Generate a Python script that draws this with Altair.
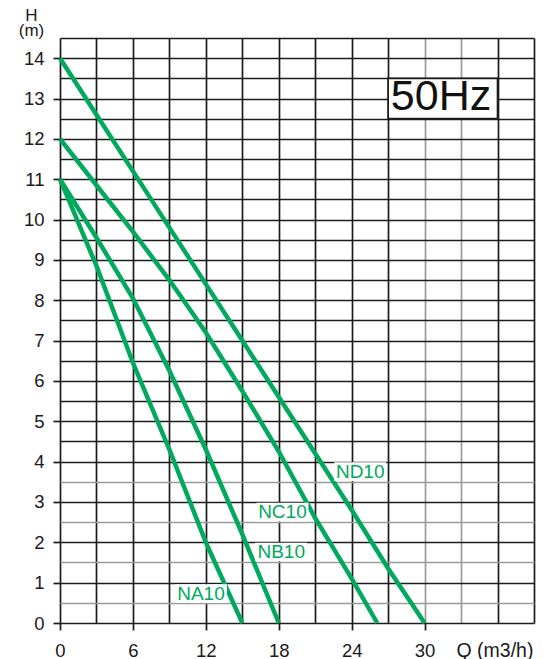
import altair as alt
import pandas as pd

# ---- data ----
series_names = ["NA10", "NB10", "NC10", "ND10"]
q_na = [0, 3, 6, 9, 12, 15]
h_na = [11.0, 8.85, 6.45, 4.3, 2.0, 0.0]
q_nb = [0, 3, 6, 9, 12, 15, 18]
h_nb = [11.0, 9.55, 8.05, 6.25, 4.3, 2.2, 0.0]
q_nc = [0, 3, 6, 9, 12, 15, 18, 21, 24, 26.1]
h_nc = [12.0, 10.85, 9.7, 8.5, 7.2, 5.75, 4.25, 2.6, 1.1, 0.0]
q_nd = [0, 3, 6, 9, 12, 15, 18, 21, 24, 27, 30]
h_nd = [14.0, 12.6, 11.2, 9.8, 8.4, 7.0, 5.6, 4.2, 2.8, 1.35, 0.0]

label_q = [11.6, 18.2, 18.3, 24.7]
label_h = [0.73, 1.76, 2.75, 3.75]

freq_text = ["50Hz"]
freq_q = [31.35]
freq_h = [13.05]
freq_box_q = [27.0, 36.0]
freq_box_h = [12.5, 13.5]

x_grid_values = list(range(0, 40, 3))
y_grid_values = [i * 0.5 for i in range(30)]

# ---- tables ----
rows = []
for name, qs, hs in zip(series_names, [q_na, q_nb, q_nc, q_nd], [h_na, h_nb, h_nc, h_nd]):
    for q, h in zip(qs, hs):
        rows.append({"series": name, "q": q, "h": h})
curves = pd.DataFrame(rows)
labels = pd.DataFrame({"series": series_names, "q": label_q, "h": label_h})
freq = pd.DataFrame({"text": freq_text, "q": freq_q, "h": freq_h,
                     "q0": [freq_box_q[0]], "q1": [freq_box_q[1]],
                     "h0": [freq_box_h[0]], "h1": [freq_box_h[1]]})

GREEN = "#00a95c"
INK = "#1c1c1c"
FONT = "Liberation Sans"

xscale = alt.Scale(domain=[0, 39], nice=False, zero=False)
yscale = alt.Scale(domain=[0, 14.5], nice=False, zero=False)

x_axis = alt.Axis(
    values=x_grid_values,
    grid=True,
    gridColor={"condition": {"test": "datum.value == 30 || datum.value == 33", "value": "#9a9a9a"}, "value": INK},
    gridWidth=1.7,
    domain=False,
    ticks=True,
    tickSize=7,
    tickWidth=1.7,
    tickColor=INK,
    tickOpacity={"condition": {"test": "datum.value % 6 == 0 && datum.value <= 30", "value": 1}, "value": 0},
    labelExpr="(datum.value % 6 == 0 && datum.value <= 30) ? format(datum.value, 'd') : ''",
    labelFlush=False,
    labelOverlap=False,
    labelPadding=11,
    labelFont=FONT,
    labelFontSize=18.5,
    labelColor="#1a1a1a",
    title="Q (m3/h)",
    titleX=434.5,
    titleY=33,
    titleAlign="center",
    titleBaseline="alphabetic",
    titleFont=FONT,
    titleFontSize=19.5,
    titleFontWeight="normal",
    titleColor="#1a1a1a",
)

y_axis = alt.Axis(
    values=y_grid_values,
    grid=True,
    gridColor={"condition": {"test": "datum.value % 1 != 0 && datum.value < 4", "value": "#9a9a9a"}, "value": INK},
    gridWidth=1.7,
    domain=False,
    ticks=True,
    tickSize=7,
    tickWidth=1.7,
    tickColor=INK,
    tickOpacity={"condition": {"test": "datum.value % 1 == 0 && datum.value <= 14", "value": 1}, "value": 0},
    labelExpr="(datum.value % 1 == 0 && datum.value <= 14) ? format(datum.value, 'd') : ''",
    labelOverlap=False,
    labelPadding=9,
    labelFont=FONT,
    labelFontSize=18.5,
    labelColor="#1a1a1a",
    title=["H", "(m)"],
    titleAngle=0,
    titleX=-29,
    titleY=-17.5,
    titleAlign="center",
    titleBaseline="alphabetic",
    titleLineHeight=14.5,
    titleFont=FONT,
    titleFontSize=17,
    titleFontWeight="normal",
    titleColor="#1a1a1a",
)

lines = alt.Chart(curves).mark_line(color=GREEN, strokeWidth=4.5, interpolate="linear").encode(
    x=alt.X("q:Q", scale=xscale, axis=x_axis),
    y=alt.Y("h:Q", scale=yscale, axis=y_axis),
    detail="series:N",
)

label_bg = alt.Chart(labels).mark_point(
    shape="M-1,-0.36H1V0.36H-1Z", size=2704, filled=True, color="white", opacity=1, strokeWidth=0
).encode(
    x=alt.X("q:Q", scale=xscale, axis=x_axis),
    y=alt.Y("h:Q", scale=yscale, axis=y_axis),
)

label_text = alt.Chart(labels).mark_text(
    color=GREEN, font=FONT, fontSize=19, align="center", baseline="middle"
).encode(
    x=alt.X("q:Q", scale=xscale, axis=x_axis),
    y=alt.Y("h:Q", scale=yscale, axis=y_axis),
    text="series:N",
)

freq_box = alt.Chart(freq).mark_rect(fill="white", stroke=INK, strokeWidth=1.7).encode(
    x=alt.X("q0:Q", scale=xscale, axis=x_axis),
    x2="q1:Q",
    y=alt.Y("h0:Q", scale=yscale, axis=y_axis),
    y2="h1:Q",
)

freq_label = alt.Chart(freq).mark_text(
    color="#111111", font=FONT, fontSize=43, align="center", baseline="middle"
).encode(
    x=alt.X("q:Q", scale=xscale, axis=x_axis),
    y=alt.Y("h:Q", scale=yscale, axis=y_axis),
    text="text:N",
)

chart = alt.layer(lines, freq_box, label_bg, label_text, freq_label).properties(
    width=474,
    height=585,
    autosize=alt.AutoSizeParams(type="none"),
    padding={"left": 52, "top": 30, "right": 4, "bottom": 36},
    background="white",
).configure_view(stroke=None)

chart.save("out.html", embed_options={"renderer": "svg", "actions": False})
